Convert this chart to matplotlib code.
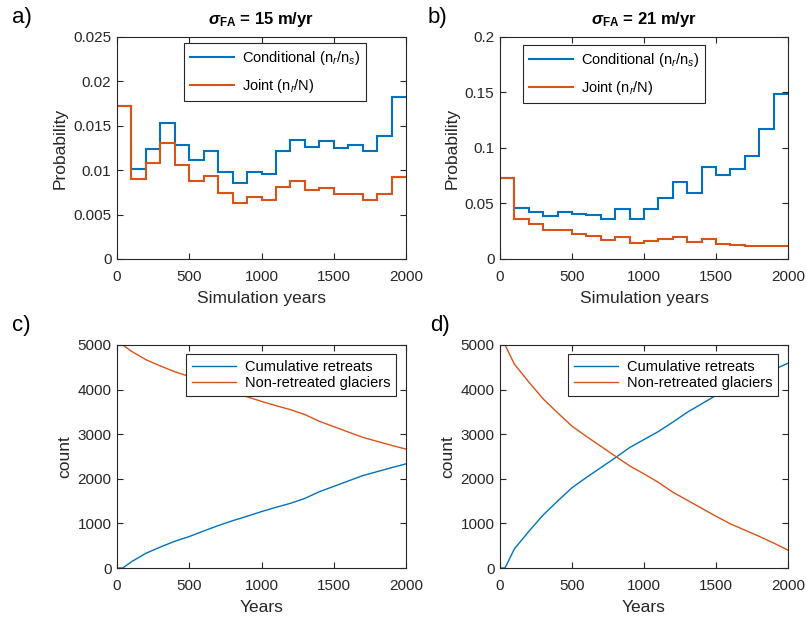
import numpy as np
import matplotlib
matplotlib.use('Agg')
import matplotlib.pyplot as plt

plt.rcParams['font.family'] = ['Liberation Sans', 'DejaVu Sans']
plt.rcParams['mathtext.fontset'] = 'custom'
plt.rcParams['mathtext.rm'] = 'Liberation Sans'
plt.rcParams['mathtext.it'] = 'Liberation Sans:italic'
plt.rcParams['mathtext.bf'] = 'Liberation Sans:bold'
plt.rcParams['mathtext.bfit'] = 'Liberation Sans:bold:italic'

BLUE = '#0072BD'
ORANGE = '#D95319'
DARK = '#262626'

# bin edges (simulation years), 20 bins of 100 yr
bin_edges = np.arange(0, 2001, 100)

# panel a: sigma_FA = 15 m/yr
cond_15 = [0.01724, 0.01008, 0.01238, 0.01533, 0.01287, 0.01111, 0.01215, 0.00981,
           0.00854, 0.00981, 0.00954, 0.01211, 0.01341, 0.01264, 0.01326, 0.01249,
           0.01284, 0.01218, 0.01387, 0.01824]
joint_15 = [0.01724, 0.00900, 0.01080, 0.01303, 0.01061, 0.00881, 0.00939, 0.00747,
            0.00625, 0.00697, 0.00663, 0.00812, 0.00877, 0.00782, 0.00797, 0.00728,
            0.00728, 0.00663, 0.00728, 0.00923]

# panel b: sigma_FA = 21 m/yr
cond_21 = [0.0732, 0.0461, 0.0425, 0.0386, 0.0422, 0.0407, 0.0398, 0.0361,
           0.0449, 0.0358, 0.0452, 0.0554, 0.0693, 0.0596, 0.0831, 0.0759,
           0.0813, 0.0928, 0.1172, 0.1485]
joint_21 = [0.0732, 0.0364, 0.0313, 0.0259, 0.0259, 0.0229, 0.0205, 0.0172,
            0.0196, 0.0145, 0.0166, 0.0181, 0.0202, 0.0157, 0.0181, 0.0139,
            0.0123, 0.0117, 0.0117, 0.0114]

# panel c: counts over time, sigma_FA = 15
years_c = [0, 40, 100, 200, 300, 400, 500, 600, 700, 800, 900, 1000, 1100,
           1200, 1300, 1400, 1500, 1600, 1700, 1800, 1900, 2000]
cum_15 = [0, 0, 140, 330, 470, 600, 705, 830, 950, 1060, 1160, 1265, 1360,
          1450, 1560, 1710, 1830, 1950, 2070, 2160, 2250, 2335]
nonret_15 = [5000, 5000, 4860, 4670, 4530, 4400, 4295, 4170, 4050, 3940, 3840,
             3735, 3640, 3550, 3440, 3290, 3170, 3050, 2930, 2840, 2750, 2665]

# panel d: counts over time, sigma_FA = 21
years_d = [0, 35, 100, 200, 300, 400, 500, 600, 700, 800, 900, 1000, 1100,
           1200, 1300, 1400, 1500, 1600, 1700, 1800, 1900, 2000]
cum_21 = [0, 0, 430, 820, 1190, 1500, 1800, 2030, 2250, 2470, 2700, 2880, 3060,
          3270, 3490, 3680, 3870, 4050, 4190, 4330, 4450, 4590]
nonret_21 = [5000, 5000, 4570, 4170, 3790, 3480, 3180, 2950, 2730, 2510, 2290,
             2110, 1920, 1700, 1520, 1340, 1160, 990, 850, 710, 560, 400]

xticks = [0, 500, 1000, 1500, 2000]


def style_axes(ax):
    for s in ax.spines.values():
        s.set_color(DARK)
        s.set_linewidth(0.8)
    ax.tick_params(direction='in', top=True, right=True, colors=DARK,
                   labelsize=11, length=4, width=0.8)
    ax.tick_params(axis='x', pad=8)
    ax.tick_params(axis='y', pad=4)
    ax.set_xlim(0, 2000)
    ax.set_xticks(xticks)


def legend(ax, loc, anchor, spacing):
    leg = ax.legend(loc=loc, bbox_to_anchor=anchor, fontsize=10.5,
                    fancybox=False, edgecolor=DARK, framealpha=1,
                    handlelength=3.0, labelspacing=spacing, borderpad=0.4,
                    handletextpad=0.6, borderaxespad=0)
    leg.get_frame().set_linewidth(0.8)


fig = plt.figure(figsize=(8.06, 6.2), dpi=100)
ax_a = fig.add_axes([117 / 806, 1 - 259 / 620, 289 / 806, 222 / 620])
ax_b = fig.add_axes([500 / 806, 1 - 259 / 620, 288 / 806, 222 / 620])
ax_c = fig.add_axes([117 / 806, 1 - 568 / 620, 289 / 806, 223 / 620])
ax_d = fig.add_axes([500 / 806, 1 - 568 / 620, 288 / 806, 223 / 620])

# top panels: probabilities
for ax, cond, joint, yt, ytl, title in [
        (ax_a, cond_15, joint_15, [0, 0.005, 0.01, 0.015, 0.02, 0.025],
         ['0', '0.005', '0.01', '0.015', '0.02', '0.025'], '15'),
        (ax_b, cond_21, joint_21, [0, 0.05, 0.1, 0.15, 0.2],
         ['0', '0.05', '0.1', '0.15', '0.2'], '21')]:
    ax.stairs(cond, bin_edges, baseline=None, color=BLUE, linewidth=1.5,
              label=r'Conditional (n$_r$/n$_s$)')
    ax.stairs(joint, bin_edges, baseline=None, color=ORANGE, linewidth=1.5,
              label=r'Joint (n$_r$/N)')
    style_axes(ax)
    ax.set_ylim(yt[0], yt[-1])
    ax.set_yticks(yt)
    ax.set_yticklabels(ytl)
    ax.set_xlabel('Simulation years', fontsize=12.5, color=DARK, labelpad=5)
    ax.set_ylabel('Probability', fontsize=12.5, color=DARK, labelpad=4)
    ax.set_title(r'$\boldsymbol{\sigma}_{\mathbf{FA}}$ = ' + title + ' m/yr',
                 fontsize=12, fontweight='bold', pad=9)

legend(ax_a, 'upper right', (0.862, 0.973), 0.7)
legend(ax_b, 'upper left', (0.08, 0.964), 0.7)

# bottom panels: counts
for ax, yrs, cum, nonret in [(ax_c, years_c, cum_15, nonret_15),
                             (ax_d, years_d, cum_21, nonret_21)]:
    ax.plot(yrs, cum, color=BLUE, linewidth=1.0, label='Cumulative retreats')
    ax.plot(yrs, nonret, color=ORANGE, linewidth=1.0,
            label='Non-retreated glaciers')
    style_axes(ax)
    ax.set_ylim(0, 5000)
    ax.set_yticks([0, 1000, 2000, 3000, 4000, 5000])
    ax.set_xlabel('Years', fontsize=12.5, color=DARK, labelpad=5)
    ax.set_ylabel('count', fontsize=12.5, color=DARK, labelpad=4)
    legend(ax, 'upper right', (0.965, 0.96), 0.15)

# panel letters
for x, y, s in [(12, 18, 'a)'), (428, 18, 'b)'), (12, 325, 'c)'), (430, 325, 'd)')]:
    fig.text(x / 806, 1 - y / 620, s, fontsize=16, va='center', ha='left',
             color='black')

fig.savefig('out.png', dpi=100)
